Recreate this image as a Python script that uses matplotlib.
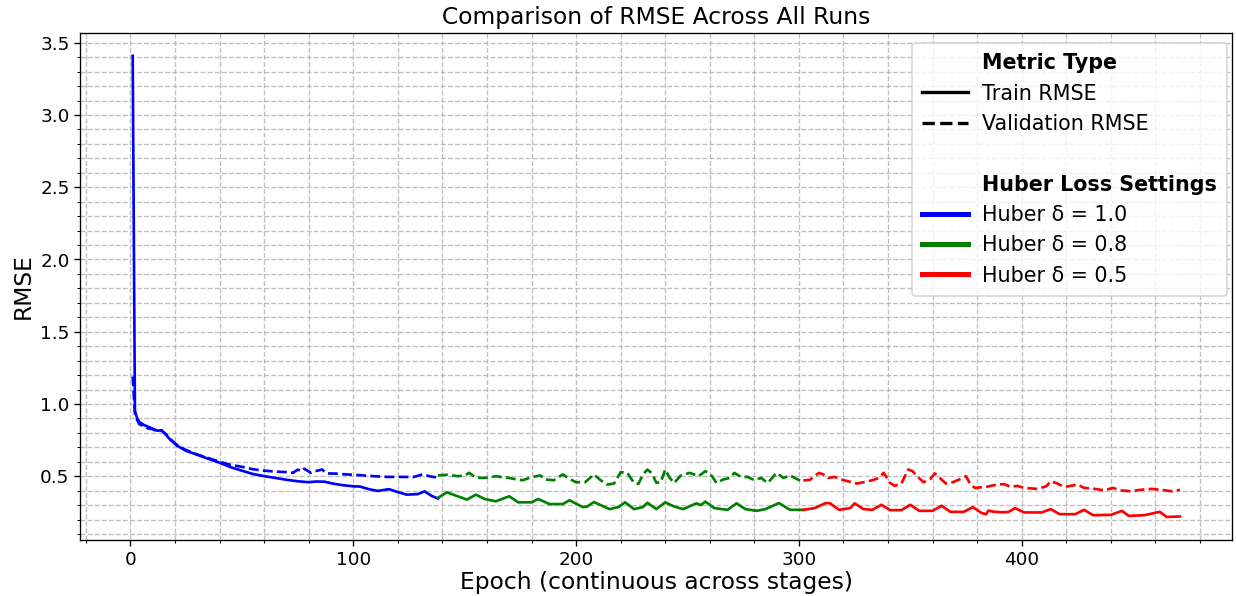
import matplotlib
matplotlib.use("Agg")
import matplotlib.pyplot as plt
from matplotlib.lines import Line2D

# epoch / RMSE values for each Huber stage (continuous epoch axis)
d10_train_epochs = [1, 2, 3, 4, 6, 9, 12, 14, 16, 18, 21, 25, 30, 35, 40, 45, 50, 55, 60, 65,
                    70, 75, 80, 83, 87, 91, 95, 100, 103, 107, 111, 116, 120, 124, 129, 132, 135, 138]
d10_train = [3.41, 0.95, 0.90, 0.875, 0.855, 0.835, 0.815, 0.818, 0.785, 0.75, 0.71, 0.675, 0.648, 0.62,
             0.593, 0.562, 0.538, 0.515, 0.50, 0.488, 0.475, 0.465, 0.458, 0.463, 0.462, 0.448, 0.438,
             0.43, 0.428, 0.41, 0.398, 0.41, 0.39, 0.372, 0.376, 0.395, 0.365, 0.345]

d10_val_epochs = [1, 2, 3, 4, 6, 8, 10, 12, 14, 16, 18, 21, 25, 30, 35, 40, 45, 50, 55, 60, 65, 70,
                  73, 75, 77, 78, 81, 83, 86, 88, 92, 97, 103, 109, 115, 121, 127, 131, 135, 138]
d10_val = [1.19, 0.93, 0.89, 0.86, 0.845, 0.83, 0.825, 0.81, 0.815, 0.79, 0.755, 0.715, 0.68, 0.65,
           0.625, 0.60, 0.578, 0.565, 0.548, 0.538, 0.532, 0.528, 0.524, 0.545, 0.535, 0.552, 0.523,
           0.535, 0.546, 0.519, 0.518, 0.512, 0.507, 0.50, 0.495, 0.495, 0.494, 0.512, 0.497, 0.49]

d08_train_epochs = [138, 142, 147, 151, 155, 159, 164, 170, 174, 180, 183, 188, 194, 197, 203, 205,
                    208, 215, 219, 222, 226, 230, 232, 236, 240, 244, 248, 254, 256, 258, 262, 268,
                    272, 276, 281, 285, 291, 296, 302]
d08_train = [0.35, 0.388, 0.36, 0.338, 0.372, 0.342, 0.326, 0.361, 0.319, 0.319, 0.342, 0.307, 0.307,
             0.333, 0.286, 0.29, 0.321, 0.272, 0.286, 0.319, 0.272, 0.286, 0.316, 0.272, 0.319, 0.29,
             0.272, 0.312, 0.30, 0.324, 0.279, 0.267, 0.312, 0.272, 0.26, 0.272, 0.314, 0.267, 0.267]

d08_val_epochs = [138, 142, 147, 150, 152, 155, 158, 161, 164, 167, 170, 173, 176, 180, 184, 186,
                  190, 194, 197, 200, 204, 208, 211, 214, 217, 220, 223, 226, 228, 230, 232, 234,
                  236, 238, 240, 242, 244, 247, 251, 255, 258, 261, 263, 266, 269, 271, 274, 277,
                  280, 283, 286, 288, 290, 293, 296, 299, 302]
d08_val = [0.505, 0.51, 0.50, 0.505, 0.523, 0.49, 0.488, 0.49, 0.50, 0.492, 0.488, 0.478, 0.472,
           0.493, 0.505, 0.477, 0.472, 0.512, 0.481, 0.458, 0.458, 0.512, 0.472, 0.442, 0.449, 0.528,
           0.523, 0.453, 0.447, 0.512, 0.546, 0.52, 0.455, 0.458, 0.546, 0.488, 0.453, 0.505, 0.523,
           0.50, 0.535, 0.50, 0.453, 0.477, 0.488, 0.523, 0.495, 0.495, 0.472, 0.488, 0.453, 0.488,
           0.523, 0.488, 0.505, 0.481, 0.458]

d05_train_epochs = [302, 307, 312, 314, 318, 323, 325, 329, 333, 337, 341, 346, 350, 354, 360, 364,
                    368, 374, 378, 382, 384, 385, 387, 391, 394, 397, 401, 409, 413, 417, 424, 428,
                    432, 440, 445, 448, 455, 462, 465, 471]
d05_train = [0.267, 0.279, 0.314, 0.312, 0.267, 0.279, 0.312, 0.272, 0.267, 0.302, 0.265, 0.265,
             0.302, 0.26, 0.26, 0.295, 0.253, 0.253, 0.286, 0.245, 0.236, 0.262, 0.255, 0.25, 0.252,
             0.279, 0.249, 0.249, 0.272, 0.237, 0.237, 0.267, 0.23, 0.232, 0.26, 0.225, 0.23, 0.253,
             0.218, 0.221]

d05_val_epochs = [302, 305, 307, 309, 311, 313, 316, 319, 322, 326, 329, 333, 336, 338, 341, 343,
                  346, 349, 351, 353, 356, 359, 361, 364, 366, 369, 372, 375, 377, 379, 384, 389,
                  392, 395, 398, 401, 407, 411, 413, 416, 419, 422, 425, 428, 433, 437, 441, 444,
                  449, 453, 458, 463, 467, 471]
d05_val = [0.47, 0.475, 0.50, 0.523, 0.512, 0.488, 0.495, 0.477, 0.465, 0.449, 0.458, 0.472, 0.488,
           0.523, 0.453, 0.433, 0.449, 0.546, 0.535, 0.50, 0.458, 0.481, 0.519, 0.477, 0.449, 0.458,
           0.477, 0.50, 0.442, 0.419, 0.426, 0.442, 0.445, 0.426, 0.433, 0.419, 0.412, 0.43, 0.465,
           0.449, 0.426, 0.433, 0.442, 0.419, 0.412, 0.402, 0.419, 0.402, 0.396, 0.405, 0.412, 0.405,
           0.396, 0.405]

runs = [
    ("Huber δ = 1.0", "blue", d10_train_epochs, d10_train, d10_val_epochs, d10_val),
    ("Huber δ = 0.8", "green", d08_train_epochs, d08_train, d08_val_epochs, d08_val),
    ("Huber δ = 0.5", "red", d05_train_epochs, d05_train, d05_val_epochs, d05_val),
]

fig, ax = plt.subplots(figsize=(10.3, 4.967), dpi=120)
fig.subplots_adjust(left=0.065, right=0.997, bottom=0.094, top=0.945)

for name, color, te, tv, ve, vv in runs:
    ax.plot(te, tv, color=color, linestyle="-", linewidth=1.6)
    ax.plot(ve, vv, color=color, linestyle="--", linewidth=1.6)

ax.set_title("Comparison of RMSE Across All Runs", fontsize=14, pad=5)
ax.set_xlabel("Epoch (continuous across stages)", fontsize=14, labelpad=1)
ax.set_ylabel("RMSE", fontsize=14, labelpad=3)
ax.tick_params(axis="both", which="major", labelsize=11, pad=3)

ax.minorticks_on()
ax.grid(which="both", linestyle="--", color="#b0b0b0", linewidth=0.8, alpha=0.8)

# legend: metric type block + huber settings block
handles = [
    Line2D([], [], color="none"),
    Line2D([], [], color="black", linestyle="-", linewidth=2),
    Line2D([], [], color="black", linestyle="--", linewidth=2),
    Line2D([], [], color="none"),
    Line2D([], [], color="none"),
]
labels = ["Metric Type", "Train RMSE", "Validation RMSE", "", "Huber Loss Settings"]
for name, color, *_ in runs:
    handles.append(Line2D([], [], color=color, linewidth=3))
    labels.append(name)

leg = ax.legend(handles, labels, loc="upper right", bbox_to_anchor=(1.002, 0.994),
                fontsize=12.4, handlelength=2.2, labelspacing=0.5, borderaxespad=0.35,
                handletextpad=0.7, borderpad=0.5)
for txt in leg.get_texts():
    if txt.get_text() in ("Metric Type", "Huber Loss Settings"):
        txt.set_fontweight("bold")

fig.savefig("out.png", dpi=120)
